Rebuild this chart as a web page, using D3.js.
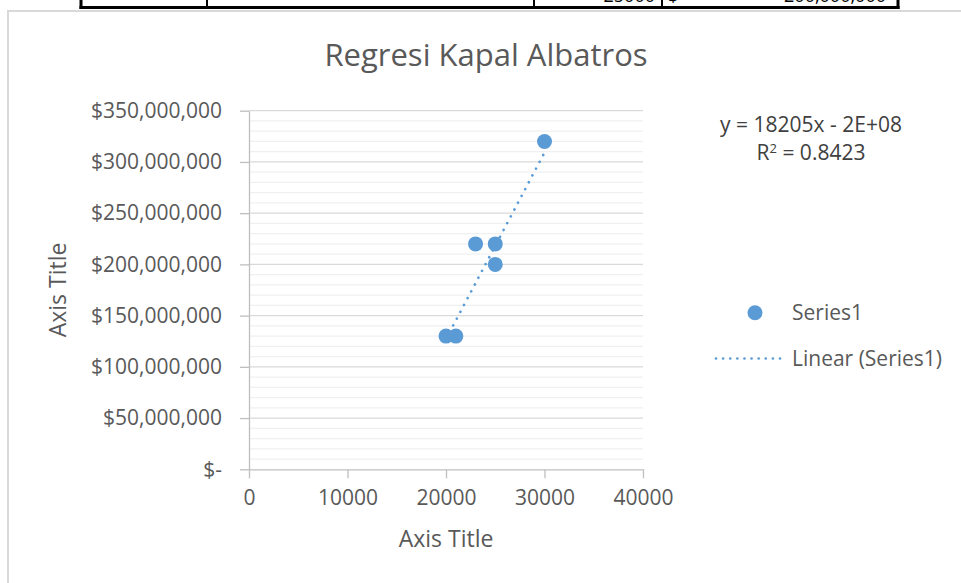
<!DOCTYPE html>
<html>
<head>
<meta charset="utf-8">
<script src="https://cdn.jsdelivr.net/npm/d3@7"></script>
<style>
  html, body { margin: 0; padding: 0; background: #fff; }
  svg { display: block; font-family: "Open Sans", sans-serif; }
</style>
</head>
<body>
<svg id="chart" width="961" height="583"></svg>
<script>
// Ship price vs. observation value (Kapal Albatros)
const xValues = [20000, 21000, 23000, 25000, 25000, 30000];
const yValues = [130000000, 130000000, 220000000, 220000000, 200000000, 320000000];

// Linear trendline fitted to the series
const trendSlope = 18205;
const trendIntercept = -237000000;
const rSquared = 0.8423;

const xTicks = [0, 10000, 20000, 30000, 40000];
const yTicks = [0, 50000000, 100000000, 150000000, 200000000, 250000000, 300000000, 350000000];
const yMinorStep = 10000000;

const chartTitle = "Regresi Kapal Albatros";
const xAxisTitle = "Axis Title";
const yAxisTitle = "Axis Title";
const seriesName = "Series1";
const trendName = "Linear (Series1)";

// Fragment of the worksheet table above the chart
const tableColumns = [81, 207, 534, 662, 898];
const tableCells = [
  { text: "25000", x: 655, anchor: "end" },
  { text: "$", x: 668, anchor: "start" },
  { text: "200,000,000", x: 886, anchor: "end" }
];

const svg = d3.select("#chart");
const W = 961, H = 583;
const blue = "#5B9BD5";
const textGrey = "#595959";
const fs = 21;

// table lines
const table = svg.append("g");
table.selectAll("line.col").data(tableColumns).join("line")
  .attr("x1", d => d).attr("x2", d => d).attr("y1", 0).attr("y2", 9)
  .attr("stroke", "#000").attr("stroke-width", (d, i) => (i === 0 || i === tableColumns.length - 1) ? 3 : 2);
table.append("line")
  .attr("x1", tableColumns[0] - 1.5).attr("x2", tableColumns[tableColumns.length - 1] + 1.5)
  .attr("y1", 7.5).attr("y2", 7.5).attr("stroke", "#000").attr("stroke-width", 3);
table.selectAll("text").data(tableCells).join("text")
  .attr("x", d => d.x).attr("y", 2).attr("text-anchor", d => d.anchor)
  .attr("font-size", 18).attr("fill", "#000").text(d => d.text);

// chart area border
svg.append("path")
  .attr("d", `M8,${H + 2} V11 H${W + 2}`)
  .attr("fill", "none").attr("stroke", "#d9d9d9").attr("stroke-width", 2);

const x = d3.scaleLinear().domain([0, 40000]).range([249, 643]);
const y = d3.scaleLinear().domain([0, 350000000]).range([469.3, 110.7]);

// minor gridlines
const minorTicks = d3.range(0, 350000000 + 1, yMinorStep).filter(v => v % 50000000 !== 0);
svg.append("g").selectAll("line").data(minorTicks).join("line")
  .attr("x1", x(0)).attr("x2", x(40000))
  .attr("y1", d => y(d)).attr("y2", d => y(d))
  .attr("stroke", "#f0f0f0").attr("stroke-width", 1.3);

// major gridlines
svg.append("g").selectAll("line").data(yTicks.slice(1)).join("line")
  .attr("x1", x(0)).attr("x2", x(40000))
  .attr("y1", d => y(d)).attr("y2", d => y(d))
  .attr("stroke", "#d9d9d9").attr("stroke-width", 1.3);

// y axis
const fmtMoney = d => d === 0 ? "$-" : "$" + d3.format(",")(d);
const yAxis = svg.append("g").attr("transform", `translate(${x(0)},0)`)
  .call(d3.axisLeft(y).tickValues(yTicks).tickFormat(fmtMoney).tickSizeInner(9).tickSizeOuter(0).tickPadding(18));
yAxis.attr("font-family", null).attr("font-size", null);
yAxis.select(".domain").attr("stroke", "#bfbfbf").attr("stroke-width", 1.3);
yAxis.selectAll(".tick line").attr("stroke", "#bfbfbf").attr("stroke-width", 1.3);
yAxis.selectAll(".tick text").attr("font-size", fs).attr("fill", textGrey);

// x axis
const xAxis = svg.append("g").attr("transform", `translate(0,${y(0)})`)
  .call(d3.axisBottom(x).tickValues(xTicks).tickFormat(d3.format("d")).tickSizeInner(9).tickSizeOuter(0).tickPadding(12));
xAxis.attr("font-family", null).attr("font-size", null);
xAxis.select(".domain").attr("stroke", "#bfbfbf").attr("stroke-width", 1.3);
xAxis.selectAll(".tick line").attr("stroke", "#bfbfbf").attr("stroke-width", 1.3);
xAxis.selectAll(".tick text").attr("font-size", fs).attr("fill", textGrey);

// trendline over the data range
const xMin = d3.min(xValues), xMax = d3.max(xValues);
const trendLine = d3.line().x(d => x(d)).y(d => y(trendSlope * d + trendIntercept));
svg.append("path").datum([xMin, xMax])
  .attr("d", trendLine)
  .attr("fill", "none").attr("stroke", blue).attr("stroke-width", 2.7)
  .attr("stroke-linecap", "round").attr("stroke-dasharray", "0.01 7.7");

// markers
svg.append("g").selectAll("circle").data(xValues.map((v, i) => [v, yValues[i]])).join("circle")
  .attr("cx", d => x(d[0])).attr("cy", d => y(d[1])).attr("r", 7.5)
  .attr("fill", blue);

// titles
svg.append("text").attr("x", 486).attr("y", 66).attr("text-anchor", "middle")
  .attr("font-size", 31).attr("fill", textGrey).text(chartTitle);
svg.append("text").attr("x", (x(0) + x(40000)) / 2).attr("y", 547).attr("text-anchor", "middle")
  .attr("font-size", 23).attr("fill", textGrey).text(xAxisTitle);
svg.append("text").attr("transform", `translate(66,${(y(0) + y(350000000)) / 2}) rotate(-90)`)
  .attr("text-anchor", "middle").attr("font-size", 23).attr("fill", textGrey).text(yAxisTitle);

// trendline equation
const fmtExp = v => {
  const [m, e] = v.toExponential(0).toUpperCase().split("E");
  const sign = e[0] === "-" ? "-" : "+";
  const digits = e.replace(/[+-]/, "").padStart(2, "0");
  return m.replace("-", "") + "E" + sign + digits;
};
const eqText = `y = ${trendSlope}x ${trendIntercept < 0 ? "-" : "+"} ${fmtExp(Math.abs(trendIntercept))}`;
svg.append("text").attr("x", 811).attr("y", 132).attr("text-anchor", "middle")
  .attr("font-size", fs).attr("fill", "#404040").text(eqText);
const r2 = svg.append("text").attr("x", 811).attr("y", 160).attr("text-anchor", "middle")
  .attr("font-size", fs).attr("fill", "#404040");
r2.append("tspan").text("R");
r2.append("tspan").attr("font-size", 13).attr("dy", -7).text("2");
r2.append("tspan").attr("dy", 7).text(" = " + rSquared.toFixed(4));

// legend
const legend = svg.append("g");
legend.append("circle").attr("cx", 755).attr("cy", 312.7).attr("r", 7.5).attr("fill", blue);
legend.append("text").attr("x", 792).attr("y", 320).attr("font-size", fs).attr("fill", textGrey).text(seriesName);
legend.append("line").attr("x1", 716).attr("x2", 780).attr("y1", 358.5).attr("y2", 358.5)
  .attr("stroke", blue).attr("stroke-width", 2.7).attr("stroke-linecap", "round").attr("stroke-dasharray", "0.01 7.1");
legend.append("text").attr("x", 792).attr("y", 366).attr("font-size", fs).attr("fill", textGrey).text(trendName);
</script>
</body>
</html>
